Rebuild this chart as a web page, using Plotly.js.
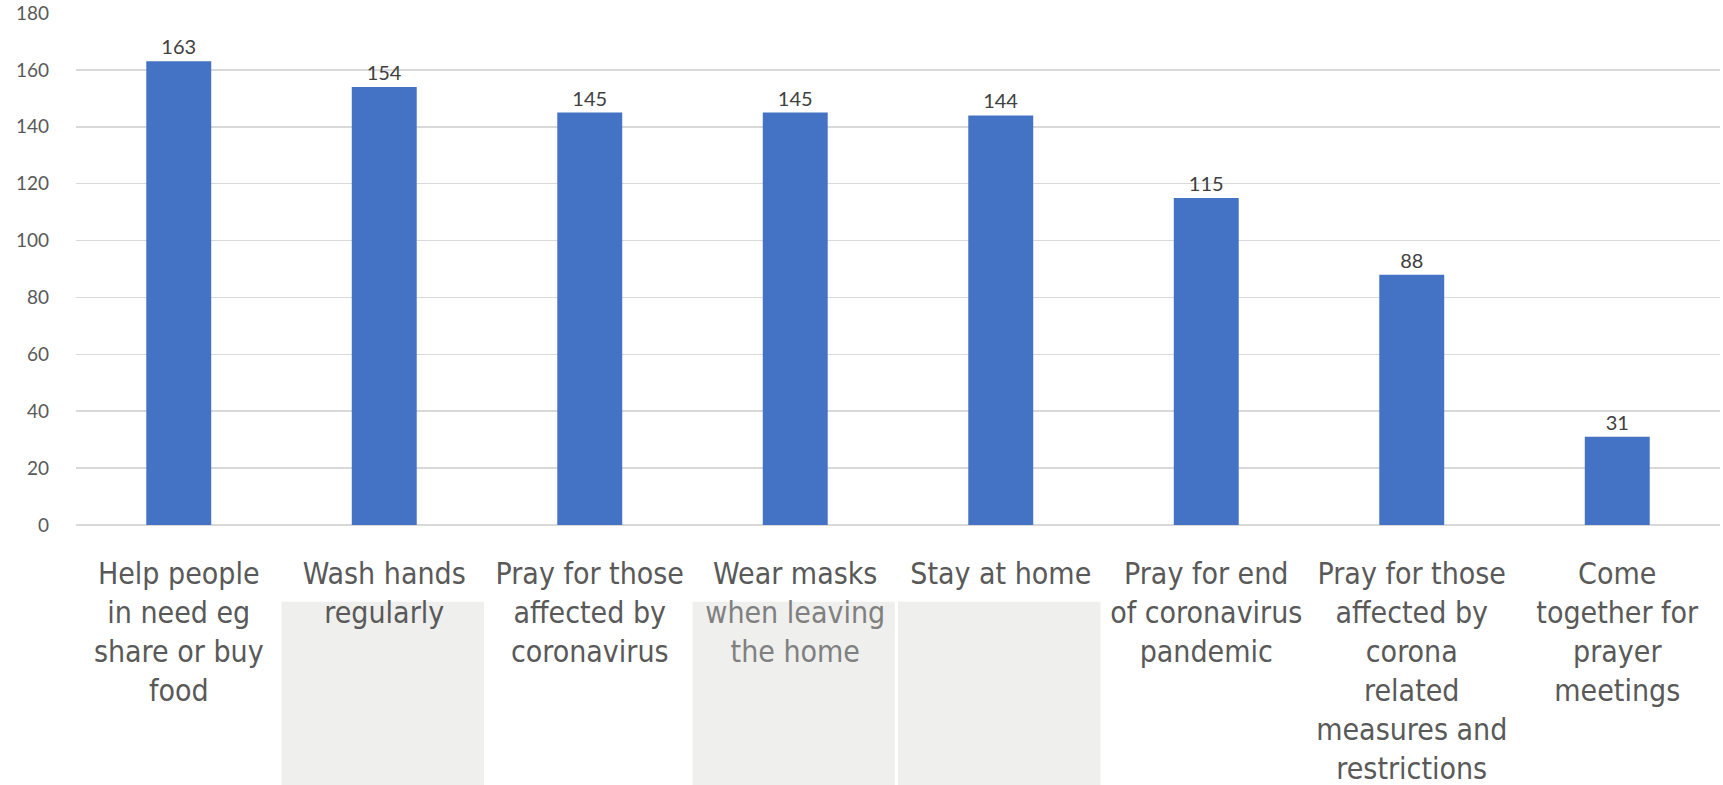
<!DOCTYPE html>
<html>
<head>
<meta charset="utf-8">
<script src="https://cdn.plot.ly/plotly-3.0.1.min.js"></script>
<style>html,body{margin:0;padding:0;background:#fff;}#chart{width:1723px;height:785px;}</style>
</head>
<body>
<div id="chart"></div>
<script>
const categories = [
  "Help people<br>in need eg<br>share or buy<br>food",
  "Wash hands<br>regularly",
  "Pray for those<br>affected by<br>coronavirus",
  "Wear masks<br><span style='color:#808080'>when leaving<br>the home</span>",
  "Stay at home",
  "Pray for end<br>of coronavirus<br>pandemic",
  "Pray for those<br>affected by<br>corona<br>related<br>measures and<br>restrictions",
  "Come<br>together for<br>prayer<br>meetings"
];
const values = [163, 154, 145, 145, 144, 115, 88, 31];
const yTicks = [0, 20, 40, 60, 80, 100, 120, 140, 160, 180];
const shadedCategoryIndexes = [1, 3, 4];

const trace = {
  type: 'bar',
  x: categories,
  y: values,
  marker: {color: '#4472c4'},
  text: values.map(String),
  textposition: 'outside',
  cliponaxis: false,
  textfont: {family: 'Lato, sans-serif', size: 20, color: '#404040'},
  hoverinfo: 'x+y'
};

const shapes = shadedCategoryIndexes.map(i => ({
  type: 'rect', layer: 'below',
  xref: 'x', yref: 'paper',
  x0: i - 0.5, x1: i + 0.485,
  y0: -0.51, y1: -0.150,
  fillcolor: '#efefed', line: {width: 0}
}));

const layout = {
  width: 1723, height: 785,
  margin: {l: 76, r: 3, t: 13, b: 260},
  paper_bgcolor: '#ffffff', plot_bgcolor: '#ffffff',
  bargap: 0.684,
  showlegend: false,
  shapes: shapes,
  xaxis: {
    type: 'category',
    tickangle: 0,
    tickfont: {family: '"DejaVu Sans Condensed", "DejaVu Sans", sans-serif', size: 30, color: '#595959'},
    ticks: '', showgrid: false, zeroline: false, showline: false,
    automargin: false, ticklabelstandoff: 28
  },
  yaxis: {
    range: [0, 180],
    tickvals: yTicks,
    ticktext: yTicks.map(String),
    tickfont: {family: 'Lato, sans-serif', size: 19, color: '#595959'},
    showgrid: true, gridcolor: '#d9d9d9', gridwidth: 1.5,
    zeroline: true, zerolinecolor: '#d9d9d9', zerolinewidth: 2,
    showline: false, ticks: '', automargin: false,
    ticklabelstandoff: 26
  }
};

Plotly.newPlot('chart', [trace], layout, {displayModeBar: false, staticPlot: true});
</script>
</body>
</html>
